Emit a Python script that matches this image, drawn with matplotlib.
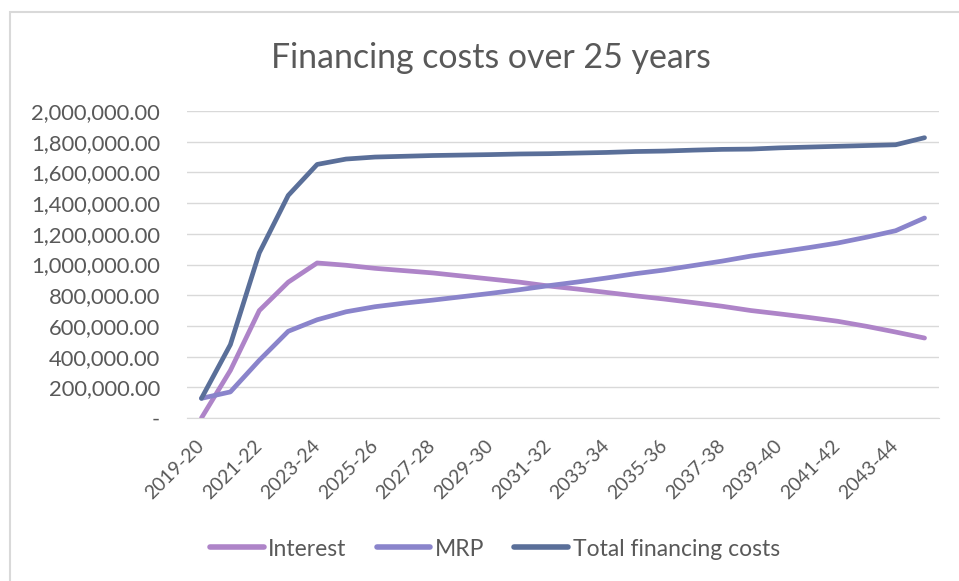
import matplotlib.pyplot as plt
from matplotlib.patches import Rectangle
from matplotlib.ticker import FuncFormatter

# financial years 2019-20 .. 2044-45
years = ['2019-20', '2020-21', '2021-22', '2022-23', '2023-24', '2024-25', '2025-26',
         '2026-27', '2027-28', '2028-29', '2029-30', '2030-31', '2031-32', '2032-33',
         '2033-34', '2034-35', '2035-36', '2036-37', '2037-38', '2038-39', '2039-40',
         '2040-41', '2041-42', '2042-43', '2043-44', '2044-45']

interest = [0, 310000, 700000, 885000, 1010000, 995000, 975000, 960000, 945000, 925000,
            905000, 885000, 860000, 840000, 818000, 796000, 775000, 752000, 728000, 700000,
            678000, 655000, 630000, 597000, 560000, 521000]
mrp = [128000, 170000, 376000, 565000, 640000, 692000, 725000, 748000, 768000, 790000,
       812000, 836000, 862000, 886000, 912000, 940000, 964000, 993000, 1022000, 1055000,
       1082000, 1110000, 1140000, 1178000, 1220000, 1303000]
total = [128000, 478000, 1076000, 1450000, 1652000, 1687000, 1700000, 1705000, 1710000,
         1713000, 1716000, 1720000, 1722000, 1726000, 1730000, 1736000, 1739000, 1745000,
         1750000, 1752000, 1760000, 1765000, 1770000, 1775000, 1780000, 1826000]

series_names = ['Interest', 'MRP', 'Total financing costs']
colors = ['#AE84C8', '#8A84CB', '#5A6F99']

txt = '#595959'
plt.rcParams['font.family'] = ['Lato', 'DejaVu Sans']

fig = plt.figure(figsize=(9.59, 5.81), dpi=100)
ax = fig.add_axes([187/959, 1 - 418/581, (939 - 187)/959, (418 - 111)/581])

x = list(range(len(years)))
for vals, name, c in zip([interest, mrp, total], series_names, colors):
    ax.plot(x, vals, color=c, lw=3.4, label=name, solid_capstyle='round',
            solid_joinstyle='round')

ax.set_xlim(-0.5, len(years) - 0.5)
ax.set_ylim(0, 2000000)
ax.set_yticks(range(0, 2000001, 200000))
ax.yaxis.set_major_formatter(FuncFormatter(lambda v, p: '-' if v == 0 else f'{v:,.2f}'))
ax.grid(axis='y', color='#D9D9D9', lw=1)
ax.set_axisbelow(True)
for s in ax.spines.values():
    s.set_visible(False)
ax.spines['bottom'].set_visible(True)
ax.spines['bottom'].set_color('#D9D9D9')

ax.set_xticks(x[::2])
ax.set_xticklabels(years[::2], rotation=45, ha='right', rotation_mode='anchor',
                   va='center')
ax.tick_params(axis='both', length=0, colors=txt)
ax.tick_params(axis='x', pad=18, labelsize=14)
ax.tick_params(axis='y', pad=19.5, labelsize=15.8)

fig.suptitle('Financing costs over 25 years', x=0.512, y=1 - 58/581, va='center',
             fontsize=24.4, color=txt)

leg = fig.legend(loc='center', bbox_to_anchor=(0.516, 1 - 549/581), ncol=3, frameon=False,
                 fontsize=16.5, handlelength=2.35, columnspacing=1.3, handletextpad=0.2,
                 labelcolor=txt)
for h in leg.get_lines():
    h.set_linewidth(4)

# chart border (cropped at right and bottom)
fig.patches.append(Rectangle((10/959, -0.1), 1.2, 1 - 12/581 + 0.1,
                             transform=fig.transFigure, fill=False,
                             edgecolor='#D9D9D9', lw=1.5))

fig.savefig('out.png', dpi=100)
